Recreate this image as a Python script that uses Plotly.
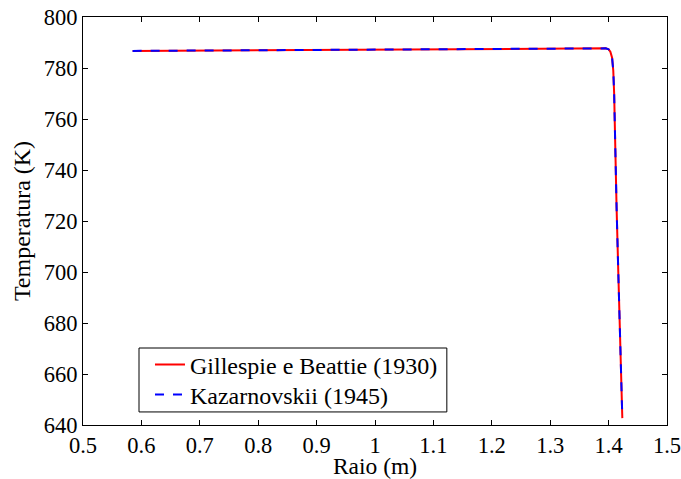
import plotly.graph_objects as go

raio = [0.585, 0.7, 0.8, 0.9, 1.0, 1.1, 1.2, 1.3, 1.38, 1.395, 1.400, 1.403,
        1.406, 1.408, 1.4095, 1.4108, 1.4137, 1.4166, 1.4194, 1.4221, 1.4235]
temp_gb = [786.7, 786.85, 787.0, 787.15, 787.3, 787.45, 787.6, 787.75, 787.85, 787.7,
           787.3, 786.4, 784.0, 779.0, 770.0, 750.0, 725.0, 700.0, 675.0, 650.0, 642.7]
temp_kz = list(temp_gb)

names = ["Gillespie e Beattie (1930)", "Kazarnovskii (1945)"]
xticks = [0.5, 0.6, 0.7, 0.8, 0.9, 1.0, 1.1, 1.2, 1.3, 1.4, 1.5]
xticklabels = ["0.5", "0.6", "0.7", "0.8", "0.9", "1", "1.1", "1.2", "1.3", "1.4", "1.5"]
yticks = [640, 660, 680, 700, 720, 740, 760, 780, 800]

fig = go.Figure()
fig.add_trace(go.Scatter(x=raio, y=temp_gb, mode="lines", name=names[0],
                         line=dict(color="red", width=2), legend="legend",
                         showlegend=True))
fig.add_trace(go.Scatter(x=raio, y=temp_kz, mode="lines", name=names[1],
                         line=dict(color="blue", width=2, dash="dash"), legend="legend2",
                         showlegend=True))

fam = "'Liberation Serif', 'Times New Roman', Times, serif"
tickfont = dict(family=fam, size=22.5, color="black")
font = dict(family=fam, size=24, color="black")
xtitlefont = dict(family=fam, size=23.5, color="black")
axis_common = dict(showline=True, linecolor="black", linewidth=1, mirror="ticks",
                   ticks="inside", ticklen=5, tickcolor="black", showgrid=False,
                   zeroline=False, tickfont=tickfont, automargin=False,
                   ticklabeloverflow="allow")
fig.update_xaxes(range=[0.5, 1.5], tickvals=xticks, ticktext=xticklabels,
                 title=dict(text="Raio (m)", font=xtitlefont, standoff=1), **axis_common)
fig.update_yaxes(range=[640, 800], tickvals=yticks,
                 title=dict(text="Temperatura (K)", font=font, standoff=6), **axis_common)

leg_common = dict(xanchor="left", yanchor="middle", borderwidth=0,
                  bgcolor="rgba(0,0,0,0)", font=font, itemwidth=30, visible=True)
# legend frame
fig.add_shape(type="rect", xref="paper", yref="paper", x0=0.0959, x1=0.623,
              y0=0.032, y1=0.1887, line=dict(color="black", width=1),
              fillcolor="white", layer="above")

fig.update_layout(width=681, height=479, margin=dict(l=83, r=14, t=17, b=54),
                  plot_bgcolor="white", paper_bgcolor="white", font=font,
                  showlegend=True,
                  legend=dict(x=0.1147, y=0.147, **leg_common),
                  legend2=dict(x=0.1147, y=0.0735, **leg_common))
fig.write_html("out.html", config={"displayModeBar": False},
               post_script="document.body.style.margin='0';document.body.style.overflow='hidden';")
